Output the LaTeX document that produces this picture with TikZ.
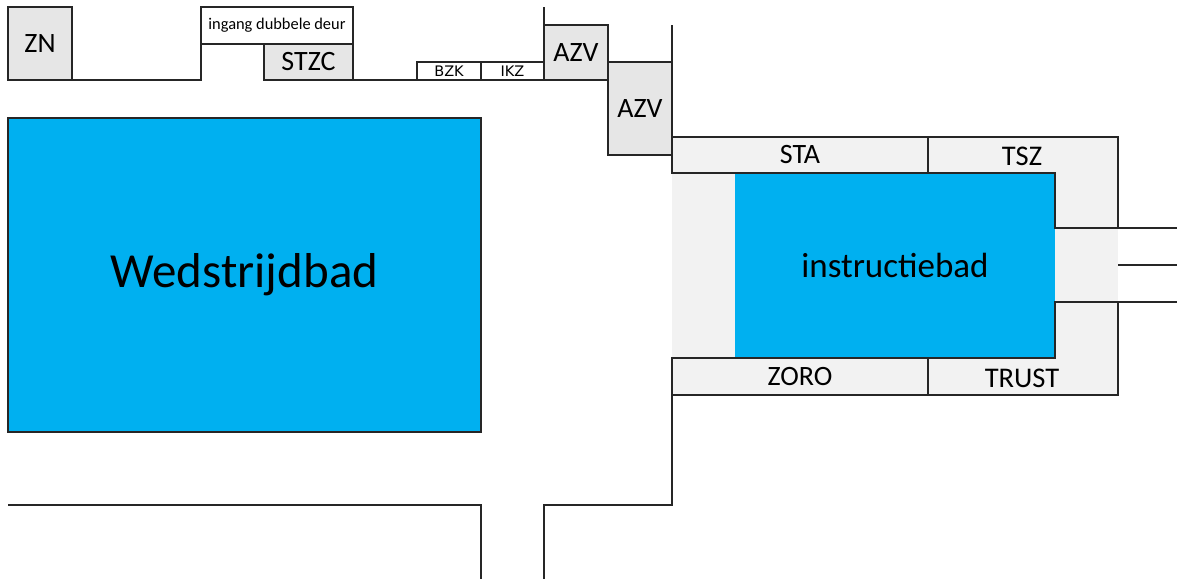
\documentclass[tikz,border=0pt]{standalone}
\usepackage{fontspec}
\setmainfont{Carlito}
\newfontfamily\smallsans{DejaVu Sans}
\definecolor{pool}{HTML}{00B0F0}
\definecolor{roomA}{HTML}{E6E6E6}
\definecolor{roomB}{HTML}{F2F2F2}
\definecolor{wallc}{HTML}{262626}
\tikzset{
  wall/.style={draw=wallc,line width=1.4pt},
  cell/.style={wall,inner sep=0pt,outer sep=0pt,anchor=north west,font=\fontsize{28}{28}\selectfont},
  grey/.style={cell,fill=roomA},
  light/.style={cell,fill=roomB},
  tiny/.style={cell,fill=white,font=\smallsans\fontsize{14.5}{14.5}\selectfont},
  lbl/.style={inner sep=0pt,outer sep=0pt,font=\fontsize{28.5}{28.5}\selectfont},
}
\begin{document}
\begin{tikzpicture}[x=1pt,y=-1pt]
\useasboundingbox (0,0) rectangle (1177,579);
% light floor of the instruction pool area
\fill[roomB] (672,137) rectangle (1118,395);
% pools
\node[cell,draw=none,fill=pool,minimum width=320pt,minimum height=185pt,font=\fontsize{35}{35}\selectfont] (ib) at (735,173) {instructiebad};
\node[cell,fill=pool,line width=1.2pt,minimum width=473pt,minimum height=314pt,font=\fontsize{49}{49}\selectfont] (wb) at (8,118) {Wedstrijdbad};
% top row of rooms
\node[grey,minimum width=64pt,minimum height=73pt] (zn) at (8,7) {ZN};
\node[cell,fill=white,minimum width=152pt,minimum height=37pt,font=\fontsize{16.4}{16.4}\selectfont] (deur) at (201,7) {ingang dubbele deur};
\node[grey,minimum width=89pt,minimum height=36pt] (stzc) at (264,44) {STZC};
\node[tiny,minimum width=64pt,minimum height=18pt] (bzk) at (417,62) {BZK};
\node[tiny,minimum width=63pt,minimum height=18pt] (ikz) at (481,62) {IKZ};
\node[grey,minimum width=64pt,minimum height=55pt] (azv1) at (544,25) {AZV};
\node[grey,minimum width=64pt,minimum height=93pt] (azv2) at (608,62) {AZV};
% rooms around the instruction pool
\node[light,minimum width=256pt,minimum height=36pt] (sta) at (672,137) {STA};
\node[light,minimum width=256pt,minimum height=37pt] (zoro) at (672,358) {ZORO};
\node[lbl] (tsz) at (1022,156) {TSZ};
\node[lbl] (trust) at (1022,378) {TRUST};
% walls along the top
\draw[wall] (zn.south east) -- (201,80) -- (deur.south west);
\draw[wall] (stzc.south east) -- (bzk.south west);
\draw[wall] (544,7) -- (azv1.north west);
\draw[wall] (azv2.north east |- azv1.north) -- (azv2.north east);
\draw[wall] (azv2.south east) -- (sta.north west);
% walls round the instruction pool
\draw[wall] (sta.north east) -- (1118,137) -- (1118,228);
\draw[wall] (sta.south east) -- (ib.north east) -- (ib.east |- 0,228) -- (1177,228);
\coordinate (r1) at (1177,265);
\draw[wall] (1118,265) -- (r1);
\draw[wall] (1177,302) -- (ib.east |- 0,302) -- (ib.south east) -- (zoro.north east);
\draw[wall] (1118,302) -- (1118,395) -- (zoro.south east);
% walls at the bottom
\draw[wall] (zoro.south west) -- (672,505) -- (544,505) -- (544,579);
\draw[wall] (8,505) -- (481,505) -- (481,579);
\end{tikzpicture}
\end{document}
